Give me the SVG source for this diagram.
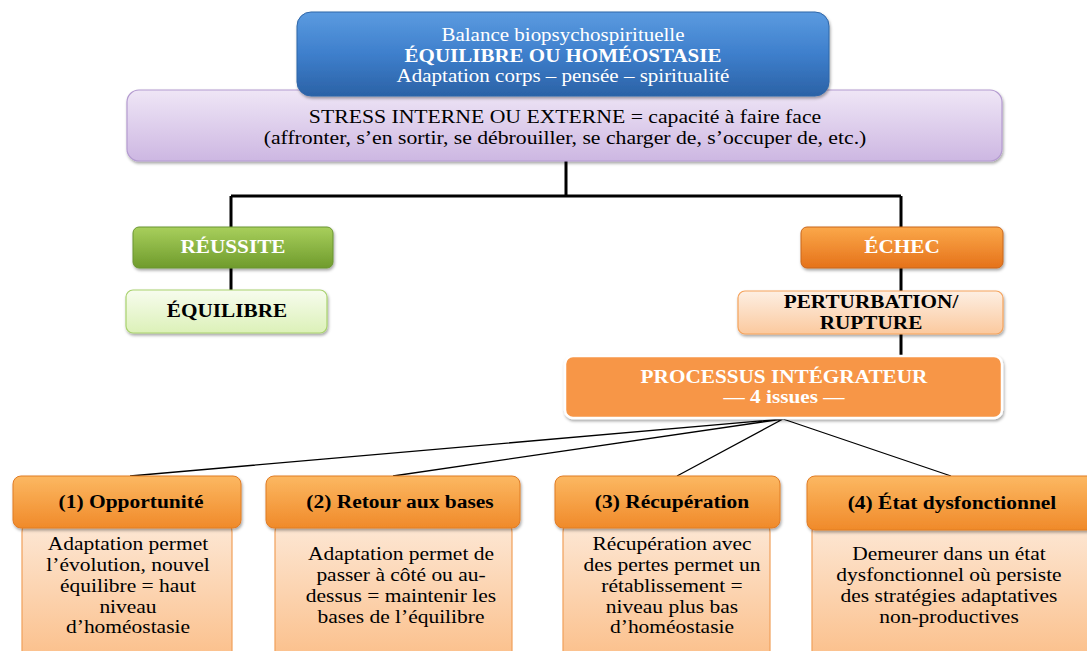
<svg xmlns="http://www.w3.org/2000/svg" width="1087" height="651" viewBox="0 0 1087 651">
<defs>
<linearGradient id="gBlue" x1="0" y1="0" x2="0" y2="1"><stop offset="0" stop-color="#5b9be0"/><stop offset="0.5" stop-color="#3e7fcc"/><stop offset="1" stop-color="#2b62a6"/></linearGradient>
<linearGradient id="gPurple" x1="0" y1="0" x2="0" y2="1"><stop offset="0" stop-color="#efe6f6"/><stop offset="1" stop-color="#cdb7e2"/></linearGradient>
<linearGradient id="gGreen" x1="0" y1="0" x2="0" y2="1"><stop offset="0" stop-color="#a8cf5c"/><stop offset="1" stop-color="#6f9b2c"/></linearGradient>
<linearGradient id="gLGreen" x1="0" y1="0" x2="0" y2="1"><stop offset="0" stop-color="#f7fcee"/><stop offset="1" stop-color="#dcf1b8"/></linearGradient>
<linearGradient id="gOrange" x1="0" y1="0" x2="0" y2="1"><stop offset="0" stop-color="#fba84a"/><stop offset="1" stop-color="#e5721a"/></linearGradient>
<linearGradient id="gPeach" x1="0" y1="0" x2="0" y2="1"><stop offset="0" stop-color="#fdefe3"/><stop offset="1" stop-color="#fbc99e"/></linearGradient>
<linearGradient id="gHead" x1="0" y1="0" x2="0" y2="1"><stop offset="0" stop-color="#fcb862"/><stop offset="1" stop-color="#f08a2a"/></linearGradient>
<linearGradient id="gBody" x1="0" y1="0" x2="0" y2="1"><stop offset="0" stop-color="#fde9d8"/><stop offset="1" stop-color="#fbbd86"/></linearGradient>
<filter id="sh" x="-10%" y="-10%" width="120%" height="140%"><feDropShadow dx="1" dy="2" stdDeviation="1.5" flood-color="#000" flood-opacity="0.35"/></filter>
</defs>
<style>
.t{font-family:'Liberation Serif';text-anchor:middle;font-size:18px;fill:#000}
.b{font-weight:bold}
.w{fill:#fff}
.st{font-size:18.4px}
.tp{font-size:17.8px}
.hd{font-size:18.2px;font-weight:bold}
.body{font-size:18.2px}
.thick{stroke:#000;stroke-width:3;fill:none}
.thin{stroke:#000;stroke-width:1.3;fill:none}
</style>
<g font-family="Liberation Serif">
<g id="connectors">
<path class="thick" d="M566 161V196M231 196H901M231 196V228M901 196V228M231 268V291M901 268V291M901 334V357"/>
<path class="thin" d="M783 419L130 476M783 419L393 476M783 419L677 476M783 419L951 476"/>
</g>
<g id="stress">
<rect x="127" y="90" width="875" height="71" rx="12" fill="url(#gPurple)" stroke="#b49bd0" stroke-width="1.2" filter="url(#sh)"/>
<text class="t st" transform="translate(565,123) scale(1.18,1)">STRESS INTERNE OU EXTERNE = capacité à faire face</text>
<text class="t st" transform="translate(565,144) scale(1.18,1)">(affronter, s’en sortir, se débrouiller, se charger de, s’occuper de, etc.)</text>
</g>
<g id="balance">
<rect x="297" y="12" width="532" height="84" rx="14" fill="url(#gBlue)" stroke="#2f66a8" stroke-width="1" filter="url(#sh)"/>
<text class="t w tp" transform="translate(563,41) scale(1.18,1)">Balance biopsychospirituelle</text>
<text class="t w b tp" transform="translate(563,62) scale(1.18,1)">ÉQUILIBRE OU HOMÉOSTASIE</text>
<text class="t w tp" transform="translate(563,82) scale(1.18,1)">Adaptation corps – pensée – spiritualité</text>
</g>
<g id="reussite">
<rect x="133" y="227" width="200" height="41" rx="6" fill="url(#gGreen)" stroke="#6a9530" stroke-width="1" filter="url(#sh)"/>
<text class="t w b" transform="translate(233,253) scale(1.18,1)">RÉUSSITE</text>
</g>
<g id="equilibre">
<rect x="126" y="290" width="201" height="43" rx="7" fill="url(#gLGreen)" stroke="#a9d26e" stroke-width="1.2" filter="url(#sh)"/>
<text class="t b" transform="translate(227,317) scale(1.18,1)">ÉQUILIBRE</text>
</g>
<g id="echec">
<rect x="801" y="227" width="202" height="41" rx="6" fill="url(#gOrange)" stroke="#c9661c" stroke-width="1" filter="url(#sh)"/>
<text class="t w b" transform="translate(902,253) scale(1.18,1)">ÉCHEC</text>
</g>
<g id="perturbation">
<rect x="738" y="291" width="265" height="43" rx="7" fill="url(#gPeach)" stroke="#f5a35c" stroke-width="1.2" filter="url(#sh)"/>
<text class="t b" transform="translate(871,308) scale(1.18,1)">PERTURBATION/</text>
<text class="t b" transform="translate(871,329) scale(1.18,1)">RUPTURE</text>
</g>
<g id="processus">
<rect x="565" y="356" width="437" height="62" rx="8" fill="#f79646" stroke="#fff" stroke-width="2.5" filter="url(#sh)"/>
<text class="t w b" transform="translate(784,383) scale(1.18,1)">PROCESSUS INTÉGRATEUR</text>
<text class="t w b" transform="translate(784,403) scale(1.18,1)">— 4 issues —</text>
</g>
<g id="issue1">
<rect x="22" y="518" width="210" height="150" rx="14" fill="url(#gBody)" stroke="#f0a05a" stroke-width="1.2"/>
<rect x="13" y="476" width="228" height="52" rx="8" fill="url(#gHead)" stroke="#e07c25" stroke-width="1" filter="url(#sh)"/>
<text class="t hd" transform="translate(131,508) scale(1.18,1)">(1) Opportunité</text>
<text class="t body" transform="translate(128,550) scale(1.18,1)">Adaptation permet</text>
<text class="t body" transform="translate(128,571) scale(1.18,1)">l’évolution, nouvel</text>
<text class="t body" transform="translate(128,592) scale(1.18,1)">équilibre = haut</text>
<text class="t body" transform="translate(128,613) scale(1.18,1)">niveau</text>
<text class="t body" transform="translate(128,633) scale(1.18,1)">d’homéostasie</text>
</g>
<g id="issue2">
<rect x="275" y="518" width="237" height="150" rx="14" fill="url(#gBody)" stroke="#f0a05a" stroke-width="1.2"/>
<rect x="266" y="476" width="254" height="52" rx="8" fill="url(#gHead)" stroke="#e07c25" stroke-width="1" filter="url(#sh)"/>
<text class="t hd" transform="translate(400,508) scale(1.18,1)">(2) Retour aux bases</text>
<text class="t body" transform="translate(401,560) scale(1.18,1)">Adaptation permet de</text>
<text class="t body" transform="translate(401,581) scale(1.18,1)">passer à côté ou au-</text>
<text class="t body" transform="translate(401,602) scale(1.18,1)">dessus = maintenir les</text>
<text class="t body" transform="translate(401,623) scale(1.18,1)">bases de l’équilibre</text>
</g>
<g id="issue3">
<rect x="563" y="518" width="207" height="150" rx="14" fill="url(#gBody)" stroke="#f0a05a" stroke-width="1.2"/>
<rect x="555" y="476" width="225" height="52" rx="8" fill="url(#gHead)" stroke="#e07c25" stroke-width="1" filter="url(#sh)"/>
<text class="t hd" transform="translate(672,508) scale(1.18,1)">(3) Récupération</text>
<text class="t body" transform="translate(672,550) scale(1.18,1)">Récupération avec</text>
<text class="t body" transform="translate(672,571) scale(1.18,1)">des pertes permet un</text>
<text class="t body" transform="translate(672,592) scale(1.18,1)">rétablissement =</text>
<text class="t body" transform="translate(672,613) scale(1.18,1)">niveau plus bas</text>
<text class="t body" transform="translate(672,633) scale(1.18,1)">d’homéostasie</text>
</g>
<g id="issue4">
<rect x="812" y="518" width="290" height="150" rx="14" fill="url(#gBody)" stroke="#f0a05a" stroke-width="1.2"/>
<rect x="807" y="476" width="295" height="54" rx="8" fill="url(#gHead)" stroke="#e07c25" stroke-width="1" filter="url(#sh)"/>
<text class="t hd" transform="translate(952,509) scale(1.18,1)">(4) État dysfonctionnel</text>
<text class="t body" transform="translate(949,560) scale(1.18,1)">Demeurer dans un état</text>
<text class="t body" transform="translate(949,581) scale(1.18,1)">dysfonctionnel où persiste</text>
<text class="t body" transform="translate(949,602) scale(1.18,1)">des stratégies adaptatives</text>
<text class="t body" transform="translate(949,623) scale(1.18,1)">non-productives</text>
</g>
</g>
</svg>
